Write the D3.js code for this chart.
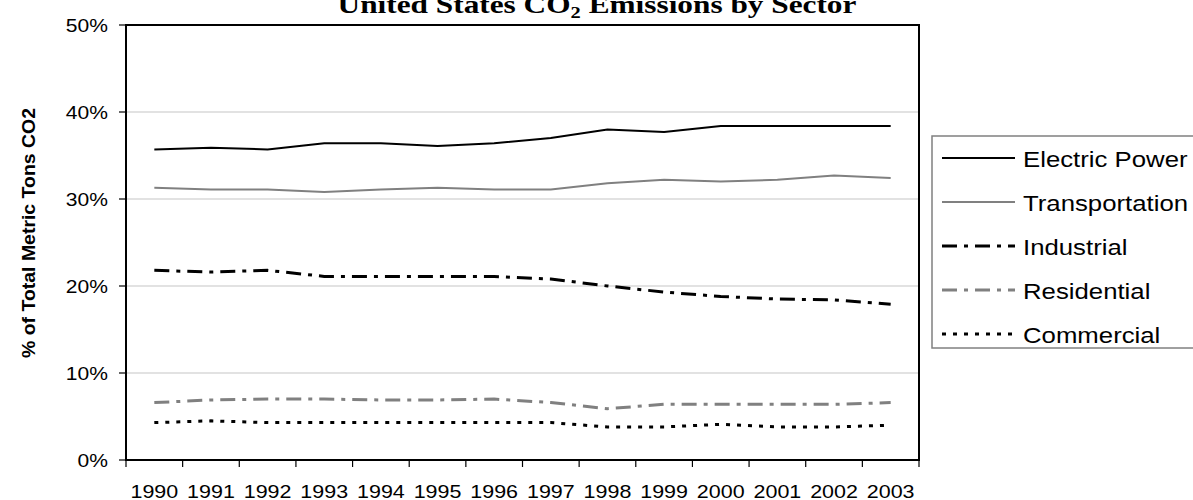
<!DOCTYPE html>
<html><head><meta charset="utf-8">
<script src="https://cdn.jsdelivr.net/npm/d3@7"></script>
<style>body{margin:0;background:#fff}svg{display:block}</style>
</head><body>
<svg id="c" width="1193" height="500"></svg>
<script>
const years = ["1990","1991","1992","1993","1994","1995","1996","1997","1998","1999","2000","2001","2002","2003"];
const electricPower  = [35.7,35.9,35.7,36.4,36.4,36.1,36.4,37.0,38.0,37.7,38.4,38.4,38.4,38.4];
const transportation = [31.3,31.1,31.1,30.8,31.1,31.3,31.1,31.1,31.8,32.2,32.0,32.2,32.7,32.4];
const industrial     = [21.8,21.6,21.8,21.1,21.1,21.1,21.1,20.8,20.0,19.3,18.8,18.5,18.4,17.9];
const residential    = [6.6,6.9,7.0,7.0,6.9,6.9,7.0,6.6,5.9,6.4,6.4,6.4,6.4,6.6];
const commercial     = [4.3,4.5,4.3,4.3,4.3,4.3,4.3,4.3,3.8,3.8,4.1,3.8,3.8,4.0];
const yTicks = [0,10,20,30,40,50];
const seriesNames = ["Electric Power","Transportation","Industrial","Residential","Commercial"];
const titleText = "United States CO";
const yTitle = "% of Total Metric Tons CO2";

const series = [
  {name: seriesNames[0], values: electricPower,  color:"#000000", width:2,   dash:null},
  {name: seriesNames[1], values: transportation, color:"#808080", width:2,   dash:null},
  {name: seriesNames[2], values: industrial,     color:"#000000", width:3,   dash:"15,7,4,7"},
  {name: seriesNames[3], values: residential,    color:"#808080", width:3,   dash:"15,7,4,7"},
  {name: seriesNames[4], values: commercial,     color:"#000000", width:3,   dash:"4,7"}
];

const svg = d3.select("#c");
const L = 126, R = 919, T = 25, B = 460;
const x = d3.scaleBand().domain(years).range([L, R]).padding(0);
const y = d3.scaleLinear().domain([0, 50]).range([B, T]);

function stretch(sel, sx) {
  sel.each(function(){
    const t = d3.select(this);
    const px = +t.attr("data-x"), py = +t.attr("data-y");
    t.attr("transform", `translate(${px},${py}) scale(${sx},1)`);
  });
}

// gridlines
svg.append("g").selectAll("line").data(yTicks.filter(d => d > 0 && d < 50)).join("line")
  .attr("x1", L).attr("x2", R).attr("y1", d => y(d)).attr("y2", d => y(d))
  .attr("stroke", "#d9d9d9").attr("stroke-width", 1.5);

// y ticks
svg.append("g").selectAll("line").data(yTicks).join("line")
  .attr("x1", L - 7).attr("x2", L).attr("y1", d => y(d)).attr("y2", d => y(d))
  .attr("stroke", "#000").attr("stroke-width", 1.2);
svg.append("g").selectAll("text").data(yTicks).join("text")
  .attr("data-x", 108).attr("data-y", d => y(d) + 6.5)
  .attr("text-anchor", "end").attr("font-family", "Arial, 'Liberation Sans', sans-serif")
  .attr("font-size", 18).attr("fill", "#000").text(d => d + "%")
  .call(stretch, 1.17);

// x ticks
const bounds = years.map(d => x(d)).concat([R]);
svg.append("g").selectAll("line").data(bounds).join("line")
  .attr("x1", d => d).attr("x2", d => d).attr("y1", B).attr("y2", B + 7)
  .attr("stroke", "#000").attr("stroke-width", 1.2);
svg.append("g").selectAll("text").data(years).join("text")
  .attr("data-x", d => x(d) + x.bandwidth()/2).attr("data-y", 497.5)
  .attr("text-anchor", "middle").attr("font-family", "Arial, 'Liberation Sans', sans-serif")
  .attr("font-size", 19).attr("fill", "#000").text(d => d)
  .call(stretch, 1.13);

// lines
const line = d3.line().x((d, i) => x(years[i]) + x.bandwidth()/2).y(d => y(d));
svg.append("g").selectAll("path").data(series).join("path")
  .attr("d", d => line(d.values)).attr("fill", "none")
  .attr("stroke", d => d.color).attr("stroke-width", d => d.width)
  .attr("stroke-dasharray", d => d.dash);

// frame
svg.append("rect").attr("x", L).attr("y", T).attr("width", R - L).attr("height", B - T)
  .attr("fill", "none").attr("stroke", "#000").attr("stroke-width", 2);

// title
const title = svg.append("text").attr("data-x", 597).attr("data-y", 13)
  .attr("text-anchor", "middle").attr("font-family", "'Times New Roman', 'Liberation Serif', serif")
  .attr("font-weight", "bold").attr("font-size", 26).attr("fill", "#000");
title.append("tspan").text(titleText);
title.append("tspan").attr("font-size", 17).attr("dy", 5).text("2");
title.append("tspan").attr("dy", -5).text(" Emissions by Sector");
{
  const w = title.node().getComputedTextLength();
  title.call(stretch, 519 / w);
}

// y title
const yt = svg.append("text")
  .attr("text-anchor", "middle").attr("font-family", "Arial, 'Liberation Sans', sans-serif")
  .attr("font-weight", "bold").attr("font-size", 17.5).attr("fill", "#000").text(yTitle);
{
  const w = yt.node().getComputedTextLength();
  yt.attr("transform", `translate(34.5,233) rotate(-90) scale(${250 / w},1)`);
}

// legend
const lg = svg.append("g");
lg.append("rect").attr("x", 932).attr("y", 136).attr("width", 300).attr("height", 212)
  .attr("fill", "#fff").attr("stroke", "#808080").attr("stroke-width", 1.5);
const rows = lg.selectAll("g.row").data(series).join("g").attr("class", "row");
rows.append("line").attr("x1", 942).attr("x2", 1015)
  .attr("y1", (d, i) => 158 + i * 44).attr("y2", (d, i) => 158 + i * 44)
  .attr("stroke", d => d.color).attr("stroke-width", d => d.width)
  .attr("stroke-dasharray", d => d.dash);
rows.append("text").attr("data-x", 1023).attr("data-y", (d, i) => 166.5 + i * 44)
  .attr("font-family", "Arial, 'Liberation Sans', sans-serif").attr("font-size", 23)
  .attr("fill", "#000").text(d => d.name)
  .call(stretch, 1.12);
</script>
</body></html>
